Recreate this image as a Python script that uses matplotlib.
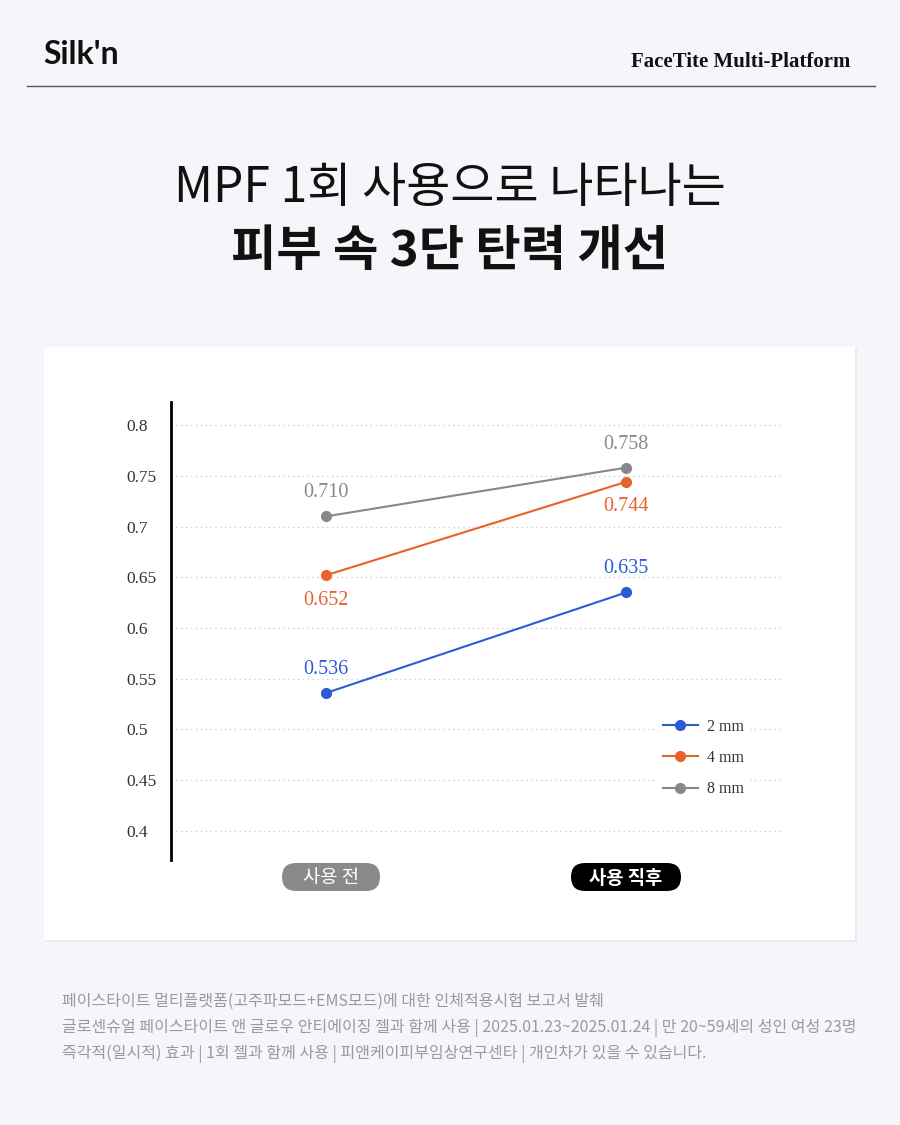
import matplotlib
matplotlib.use('Agg')
import matplotlib.pyplot as plt
import matplotlib.patches as patches
from matplotlib.lines import Line2D

plt.rcParams['font.family'] = ['Noto Sans CJK KR', 'DejaVu Sans']

# data
stages = ['사용 전', '사용 직후']
series_names = ['2 mm', '4 mm', '8 mm']
values_2mm = [0.536, 0.635]
values_4mm = [0.652, 0.744]
values_8mm = [0.710, 0.758]
y_ticks = [0.4, 0.45, 0.5, 0.55, 0.6, 0.65, 0.7, 0.75, 0.8]
y_tick_labels = ['0.4', '0.45', '0.5', '0.55', '0.6', '0.65', '0.7', '0.75', '0.8']

title_1 = 'MPF 1회 사용으로 나타나는'
title_2 = '피부 속 3단 탄력 개선'
notes = [
    '페이스타이트 멀티플랫폼(고주파모드+EMS모드)에 대한 인체적용시험 보고서 발췌',
    '글로센슈얼 페이스타이트 앤 글로우 안티에이징 젤과 함께 사용 | 2025.01.23~2025.01.24 | 만 20~59세의 성인 여성 23명',
    '즉각적(일시적) 효과 | 1회 젤과 함께 사용 | 피앤케이피부임상연구센타 | 개인차가 있을 수 있습니다.',
]

colors = ['#2b5bd6', '#e8622c', '#888888']
label_side = [('above', 'above'), ('below', 'below'), ('above', 'above')]

W, H = 900, 1125
fig = plt.figure(figsize=(9, 11.25), dpi=100)
fig.patch.set_facecolor('#f4f6f9')


def fx(x):
    return x / W


def fy(y):
    return 1 - y / H


# header
fig.text(fx(43), fy(54), "Silk'n", fontsize=23, fontweight='bold', color='#111111',
         family=['Lato', 'DejaVu Sans'], va='center', ha='left')
fig.text(fx(850), fy(62), 'FaceTite Multi-Platform', fontsize=15, color='#111111',
         family=['Liberation Serif'], fontweight='bold', va='center', ha='right')
fig.add_artist(Line2D([fx(27), fx(875)], [fy(86), fy(86)], color='#555555', lw=1,
                      transform=fig.transFigure))

# titles
fig.text(0.5, fy(188), title_1, fontsize=34.5, color='#111111', ha='center', va='center',
         fontweight='light')
fig.text(0.5, fy(252), title_2, fontsize=35.5, color='#111111', ha='center', va='center',
         fontweight='bold')

# card
shadow = patches.Rectangle((fx(46), fy(942)), fx(811), (940 - 347) / H,
                           transform=fig.transFigure, facecolor='#e6e8ec',
                           edgecolor='none', zorder=0)
card = patches.Rectangle((fx(44), fy(940)), fx(811), (940 - 347) / H,
                         transform=fig.transFigure, facecolor='white',
                         edgecolor='none', zorder=0)
fig.add_artist(shadow)
fig.add_artist(card)

# chart
ax = fig.add_axes([fx(171), fy(860), fx(782 - 171), (860 - 402) / H])
ax.set_facecolor('none')
xs = [0, 1]
all_series = [values_2mm, values_4mm, values_8mm]
for vals, name, c, sides in zip(all_series, series_names, colors, label_side):
    ax.plot(xs, vals, color=c, lw=1.5, marker='o', markersize=7, label=name, zorder=3)
    for x, v, s in zip(xs, vals, sides):
        off = 17 if s == 'above' else -18
        ax.annotate(f'{v:.3f}', (x, v), xytext=(0, off), textcoords='offset points',
                    ha='center', va='center', fontsize=14.5, color=c,
                    family=['Liberation Serif'])

ax.set_xlim(-0.517, 1.52)
ax.set_ylim(0.3714, 0.8227)
ax.set_yticks(y_ticks)
ax.set_yticklabels(y_tick_labels, family=['Liberation Serif'], fontsize=12.5,
                   color='#333333', ha='left')
ax.tick_params(axis='y', length=0, pad=32)
ax.set_xticks([])
ax.yaxis.grid(True, linestyle=(0, (1, 2.5)), color='#cfcfcf', lw=1)
ax.set_axisbelow(True)
for side in ['top', 'right', 'bottom']:
    ax.spines[side].set_visible(False)
ax.spines['left'].set_linewidth(2)
ax.spines['left'].set_color('black')

leg = ax.legend(loc='upper left', bbox_to_anchor=((650 - 171) / (782 - 171), (860 - 706) / (860 - 402)),
                frameon=True, facecolor='white', edgecolor='none', framealpha=1,
                prop={'family': 'Liberation Serif', 'size': 11.5}, labelspacing=0.95,
                handlelength=2.2, handletextpad=0.6, borderpad=0.3)
for t in leg.get_texts():
    t.set_color('#333333')

# stage pills
pill_face = ['#8a8a8a', '#000000']
pill_w = [98, 110]
pill_x = [331, 626]
for xc, lab, fc, w in zip(pill_x, stages, pill_face, pill_w):
    h = 28
    pill = patches.FancyBboxPatch((xc - w / 2, H - 877 - h / 2), w, h,
                                  boxstyle='round,pad=0,rounding_size=14',
                                  transform=None, facecolor=fc, edgecolor='none')
    fig.add_artist(pill)
    fig.text(fx(xc), fy(878), lab, fontsize=13.5, color='white', ha='center', va='center',
             fontweight='bold' if fc == '#000000' else 'normal')

# footnotes
for i, line in enumerate(notes):
    fig.text(fx(62), fy(1001 + 26.5 * i), line, fontsize=11.5, color='#9a9a9a',
             ha='left', va='center')

fig.savefig('out.png', dpi=100, facecolor=fig.get_facecolor())
